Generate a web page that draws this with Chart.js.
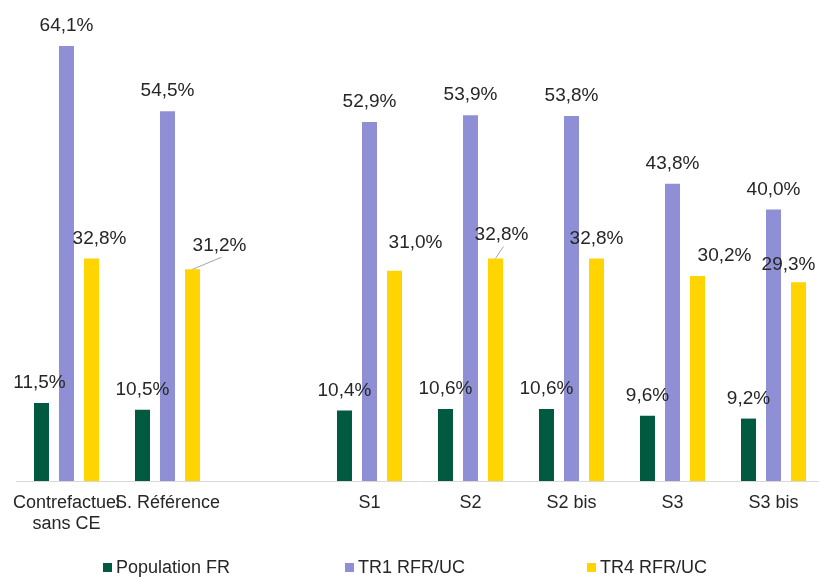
<!DOCTYPE html>
<html lang="fr">
<head>
<meta charset="UTF-8">
<title>Taux par scénario</title>
<style>
  html, body { margin: 0; padding: 0; background: #fff; overflow: hidden; }
  body { width: 819px; height: 577px; position: relative; font-family: "Liberation Sans", Arial, sans-serif; }
  #wrap { position: absolute; left: 0; top: 0; width: 826px; height: 577px; }
  #legend { position: absolute; top: 557px; left: 0; width: 819px; height: 20px; }
  .item { position: absolute; top: 0; font-size: 18px; line-height: 20px; color: #262626; white-space: nowrap; }
  .item span.box { position: absolute; left: 0; top: 6px; width: 9px; height: 9px; }
  .item span.txt { position: absolute; left: 13px; top: 0; }
</style>
<script src="https://cdn.jsdelivr.net/npm/chart.js"></script>
</head>
<body>
<div id="wrap"><canvas id="chart" width="826" height="577"></canvas></div>
<div id="legend"></div>
<script>
// categories (the empty one is the gap between the reference and the scenarios)
const categories = [['Contrefactuel', 'sans CE'], 'S. Référence', '', 'S1', 'S2', 'S2 bis', 'S3', 'S3 bis'];
const seriesNames = ['Population FR', 'TR1 RFR/UC', 'TR4 RFR/UC'];
const populationFR = [11.5, 10.5, null, 10.4, 10.6, 10.6, 9.6, 9.2];
const tr1 = [64.1, 54.5, null, 52.9, 53.9, 53.8, 43.8, 40.0];
const tr4 = [32.8, 31.2, null, 31.0, 32.8, 32.8, 30.2, 29.3];
const colors = ['#005a3f', '#8f8fd6', '#ffd400'];

// label nudges (dx, dy) per series, and which ones get a leader line
const labelShift = [
  [[-2,0],[0,0],null,[0,0],[0,0],[0,0],[0,0],[0,0]],
  [[0,0],[0,0],null,[0,0],[0,0],[0,0],[0,0],[0,0]],
  [[8,0],[27,-4],null,[21,-8],[6,-4],[0,0],[27,0],[-10,3]]
];
const leaders = { '2-1': true, '2-4': true };

const fmt = v => v.toFixed(1).replace('.', ',') + '%';

const barLabels = {
  id: 'barLabels',
  afterDatasetsDraw(chart) {
    const ctx = chart.ctx;
    ctx.save();
    ctx.font = '19px "Liberation Sans", Arial, sans-serif';
    ctx.fillStyle = '#262626';
    ctx.textAlign = 'center';
    ctx.textBaseline = 'middle';
    chart.data.datasets.forEach((ds, di) => {
      chart.getDatasetMeta(di).data.forEach((bar, i) => {
        const v = ds.data[i];
        if (v == null) return;
        const sh = labelShift[di][i] || [0, 0];
        const lx = bar.x + sh[0];
        const ly = bar.y - 20 + sh[1];
        if (leaders[di + '-' + i]) {
          ctx.strokeStyle = '#a6a6a6';
          ctx.lineWidth = 1;
          ctx.beginPath();
          ctx.moveTo(bar.x, bar.y);
          ctx.lineTo(lx + 2, ly + 12);
          ctx.stroke();
        }
        ctx.fillText(fmt(v), lx, ly);
      });
    });
    ctx.restore();
  }
};

new Chart(document.getElementById('chart'), {
  type: 'bar',
  data: {
    labels: categories,
    datasets: [populationFR, tr1, tr4].map((d, i) => ({
      label: seriesNames[i],
      data: d,
      backgroundColor: colors[i],
      categoryPercentage: 0.743,
      barPercentage: 0.6
    }))
  },
  options: {
    responsive: false,
    animation: false,
    layout: { padding: { left: 16, right: 2, top: 6, bottom: 0 } },
    plugins: { legend: { display: false }, tooltip: { enabled: false } },
    scales: {
      y: { display: false, min: 0, max: 70 },
      x: {
        grid: { display: false },
        border: { display: true, color: '#d9d9d9', width: 1 },
        ticks: {
          autoSkip: false, maxRotation: 0, minRotation: 0, padding: 3,
          color: '#262626',
          font: { family: '"Liberation Sans", Arial, sans-serif', size: 18, lineHeight: 1.2 }
        },
        afterFit(scale) { scale.height = 96; }
      }
    }
  },
  plugins: [barLabels]
});

// legend
const legend = document.getElementById('legend');
const legendLeft = [103, 345, 587];
seriesNames.forEach((name, i) => {
  const el = document.createElement('div');
  el.className = 'item';
  el.style.left = legendLeft[i] + 'px';
  el.innerHTML = '<span class="box" style="background:' + colors[i] + '"></span><span class="txt">' + name + '</span>';
  legend.appendChild(el);
});
</script>
</body>
</html>
